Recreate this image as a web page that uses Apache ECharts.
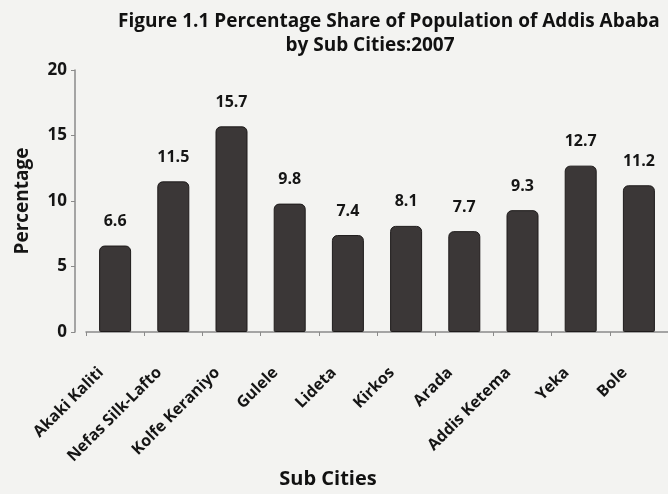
<!DOCTYPE html>
<html>
<head>
<meta charset="utf-8">
<script src="https://cdn.jsdelivr.net/npm/echarts@6/dist/echarts.min.js"></script>
<style>html,body{margin:0;padding:0;background:#f3f3f1;}#c{width:668px;height:494px;}</style>
</head>
<body>
<div id="c"></div>
<script>
const categories = ['Akaki Kaliti','Nefas Silk-Lafto','Kolfe Keraniyo','Gulele','Lideta','Kirkos','Arada','Addis Ketema','Yeka','Bole'];
const shares = [6.6, 11.5, 15.7, 9.8, 7.4, 8.1, 7.7, 9.3, 12.7, 11.2];
const yMin = 0, yMax = 20, yStep = 5;
const titleLine1 = 'Figure 1.1 Percentage Share of Population of Addis Ababa';
const titleLine2 = 'by Sub Cities:2007';
const xName = 'Sub Cities';
const yName = 'Percentage';

const FONT = '"Open Sans", Lato, sans-serif';
const chart = echarts.init(document.getElementById('c'), null, {renderer:'canvas'});
chart.setOption({
  backgroundColor: '#f3f3f1',
  animation: false,
  graphic: [
    {type:'text', left: 118, top: 12, style:{text: titleLine1, font: 'bold 19px ' + FONT, fill:'#111'}},
    {type:'text', x: 370, y: 36, style:{text: titleLine2, font: 'bold 19px ' + FONT, fill:'#111', align:'center'}},
    {type:'text', x: 328, y: 469, style:{text: xName, font: 'bold 20px ' + FONT, fill:'#111', align:'center'}}
  ],
  grid: {left: 86, top: 70, width: 602, height: 262, containLabel: false},
  xAxis: {
    type: 'category',
    data: categories,
    axisLine: {lineStyle: {color: '#8a8a8a', width: 1.5}},
    axisTick: {show: true, alignWithLabel: false, length: 4, lineStyle:{color:'#8a8a8a'}},
    axisLabel: {rotate: 45, interval: 0, margin: 24, padding: [0, 20, 0, 0],
      fontFamily: FONT, fontWeight: 'bold', fontSize: 16, color: '#151515'}
  },
  yAxis: {
    type: 'value', min: yMin, max: yMax, interval: yStep, offset: 11,
    name: yName, nameLocation: 'middle', nameRotate: 90, nameGap: 43,
    nameTextStyle: {fontFamily: FONT, fontWeight: 'bold', fontSize: 19, color: '#151515'},
    axisLine: {show: true, lineStyle: {color: '#8a8a8a', width: 1.5}},
    axisTick: {show: true, length: 4, lineStyle:{color:'#8a8a8a'}},
    splitLine: {show: false},
    axisLabel: {fontFamily: FONT, fontWeight: 'bold', fontSize: 17, color: '#151515', margin: 8}
  },
  series: [{
    type: 'bar',
    data: shares,
    barWidth: 32,
    itemStyle: {color: '#3b3737', borderColor: '#1e1b1b', borderWidth: 1, borderRadius: [5,5,1,1]},
    label: {show: true, position: 'top', distance: 16, fontFamily: FONT, fontWeight: 'bold', fontSize: 16, color: '#151515'}
  }]
});
</script>
</body>
</html>
